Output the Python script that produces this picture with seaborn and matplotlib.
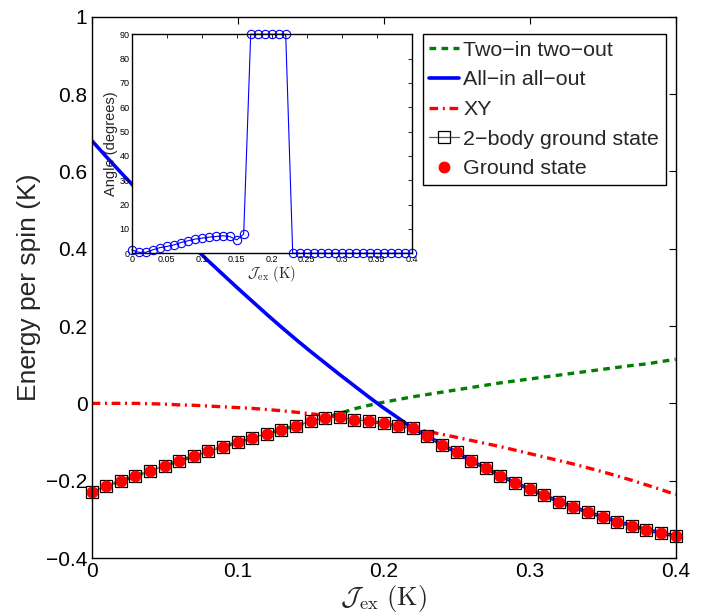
import numpy as np
import pandas as pd
import matplotlib
matplotlib.use("Agg")
import matplotlib.pyplot as plt
import seaborn as sns

# exchange coupling grid (K)
j_ex = np.linspace(0, 0.4, 41)

# energies per spin (K)
ground_state = [-0.230, -0.214, -0.201, -0.188, -0.174, -0.162, -0.148, -0.137, -0.124, -0.113,
                -0.100, -0.089, -0.078, -0.068, -0.058, -0.046, -0.037, -0.036, -0.042, -0.046,
                -0.052, -0.059, -0.065, -0.084, -0.107, -0.127, -0.148, -0.168, -0.187, -0.205,
                -0.222, -0.238, -0.254, -0.268, -0.282, -0.293, -0.306, -0.316, -0.327, -0.335, -0.343]
two_body = [-0.230, -0.214, -0.201, -0.188, -0.174, -0.162, -0.148, -0.137, -0.124, -0.113,
            -0.100, -0.089, -0.078, -0.068, -0.058, -0.046, -0.037, -0.036, -0.042, -0.046,
            -0.052, -0.059, -0.065, -0.084, -0.107, -0.127, -0.148, -0.168, -0.187, -0.205,
            -0.222, -0.238, -0.254, -0.268, -0.282, -0.293, -0.306, -0.316, -0.327, -0.335, -0.343]
two_in_two_out = [-0.230, -0.214, -0.201, -0.188, -0.174, -0.162, -0.148, -0.137, -0.124, -0.113,
                  -0.100, -0.089, -0.078, -0.068, -0.058, -0.046, -0.037, -0.026, -0.014, -0.005,
                  0.003, 0.010, 0.017, 0.023, 0.029, 0.035, 0.041, 0.047, 0.053, 0.058,
                  0.063, 0.068, 0.073, 0.078, 0.083, 0.088, 0.093, 0.098, 0.102, 0.108, 0.114]
all_in_all_out = [0.680, 0.638, 0.597, 0.557, 0.518, 0.479, 0.441, 0.404, 0.368, 0.333,
                  0.298, 0.264, 0.230, 0.197, 0.165, 0.134, 0.104, 0.074, 0.045, 0.016,
                  -0.012, -0.038, -0.065, -0.084, -0.107, -0.127, -0.148, -0.168, -0.187, -0.205,
                  -0.222, -0.238, -0.254, -0.268, -0.282, -0.293, -0.306, -0.316, -0.327, -0.335, -0.343]
xy_state = [0.000, 0.000, 0.000, 0.000, -0.001, -0.002, -0.004, -0.005, -0.007, -0.009,
            -0.011, -0.013, -0.016, -0.019, -0.023, -0.027, -0.031, -0.036, -0.042, -0.046,
            -0.052, -0.059, -0.065, -0.073, -0.080, -0.088, -0.096, -0.104, -0.112, -0.121,
            -0.130, -0.139, -0.148, -0.157, -0.167, -0.177, -0.188, -0.199, -0.211, -0.223, -0.236]

# inset: angle (degrees)
angle = [1.4, 0.4, 0.4, 1.4, 2.3, 2.8, 3.4, 4.4, 5.1, 5.8,
         6.2, 6.6, 6.9, 7.2, 6.9, 5.5, 7.9, 90, 90, 90,
         90, 90, 90, 0, 0, 0, 0, 0, 0, 0,
         0, 0, 0, 0, 0, 0, 0, 0, 0, 0, 0]

df = pd.DataFrame({"J": j_ex, "gs": ground_state, "tb": two_body, "tito": two_in_two_out,
                   "aiao": all_in_all_out, "xy": xy_state, "angle": angle})

sns.set_theme(style="white")
plt.rcParams['font.family'] = ['Liberation Sans', 'DejaVu Sans']
plt.rcParams['mathtext.fontset'] = 'cm'
plt.rcParams['axes.edgecolor'] = 'black'
plt.rcParams['axes.linewidth'] = 1.0

fig = plt.figure(figsize=(7.05, 6.14), dpi=100)
ax = fig.add_axes([0.130, 0.0912, 0.8284, 0.8816])

sns.lineplot(data=df, x="J", y="tito", ax=ax, color="green", linewidth=2.4,
             linestyle=(0, (2.0, 1.6)), label="Two\u2212in two\u2212out")
sns.lineplot(data=df, x="J", y="aiao", ax=ax, color="blue", linewidth=2.6,
             label="All\u2212in all\u2212out")
sns.lineplot(data=df, x="J", y="xy", ax=ax, color="red", linewidth=2.4,
             linestyle=(0, (2.6, 1.4, 0.6, 1.4)), label="XY")
sns.lineplot(data=df, x="J", y="tb", ax=ax, color="0.35", linewidth=0.9, marker="s",
             markersize=9, markerfacecolor="none", markeredgecolor="black",
             markeredgewidth=0.9, label="2\u2212body ground state", clip_on=False)
sns.lineplot(data=df, x="J", y="gs", ax=ax, color="red", linestyle="none", marker="o",
             markersize=7.8, markeredgecolor="red", label="Ground state", clip_on=False)

ax.set_xlim(0, 0.4)
ax.set_ylim(-0.4, 1)
ax.set_xticks([0, 0.1, 0.2, 0.3, 0.4])
ax.set_xticklabels(["0", "0.1", "0.2", "0.3", "0.4"])
ax.set_yticks([-0.4, -0.2, 0, 0.2, 0.4, 0.6, 0.8, 1])
ax.set_yticklabels(["\u22120.4", "\u22120.2", "0", "0.2", "0.4", "0.6", "0.8", "1"])
ax.tick_params(direction="in", length=5, width=0.8, top=True, right=True,
               labelsize=15, pad=3, colors="black")
ax.set_xlabel(r"$\mathcal{J}_{\rm ex}\ ({\rm K})$", fontsize=19, labelpad=1)
ax.set_ylabel("Energy per spin (K)", fontsize=19, labelpad=4)

leg = ax.legend(loc="upper right", bbox_to_anchor=(665.7 / 705, 1 - 34.3 / 614),
                bbox_transform=fig.transFigure, borderaxespad=0, fontsize=15.4,
                frameon=True, fancybox=False, handlelength=1.4, handletextpad=0.2,
                labelspacing=0.5, borderpad=0.3)
leg.get_frame().set_edgecolor("black")
leg.get_frame().set_linewidth(1.0)
leg.get_frame().set_alpha(1)

# inset
ins = fig.add_axes([0.1868, 0.5875, 0.3972, 0.3567])
ins.set_facecolor("white")
sns.lineplot(data=df, x="J", y="angle", ax=ins, color="blue", linewidth=0.8, marker="o",
             markersize=6, markerfacecolor="none", markeredgecolor="blue",
             markeredgewidth=0.8, clip_on=False)
ins.set_xlim(0, 0.4)
ins.set_ylim(0, 90)
ins.set_xticks([0, 0.05, 0.1, 0.15, 0.2, 0.25, 0.3, 0.35, 0.4])
ins.set_xticklabels(["0", "0.05", "0.1", "0.15", "0.2", "0.25", "0.3", "0.35", "0.4"])
ins.set_yticks(list(range(0, 91, 10)))
ins.set_yticklabels([str(v) for v in range(0, 91, 10)])
ins.tick_params(direction="in", length=3, width=0.6, top=True, right=True,
                labelsize=6.5, pad=1.5, colors="black")
ins.set_xlabel(r"$\mathcal{J}_{\rm ex}\ ({\rm K})$", fontsize=10.5, labelpad=0)
ins.set_ylabel("Angle (degrees)", fontsize=10.5, labelpad=1)
for s in ins.spines.values():
    s.set_linewidth(1.0)

fig.savefig("out.png", dpi=100)
